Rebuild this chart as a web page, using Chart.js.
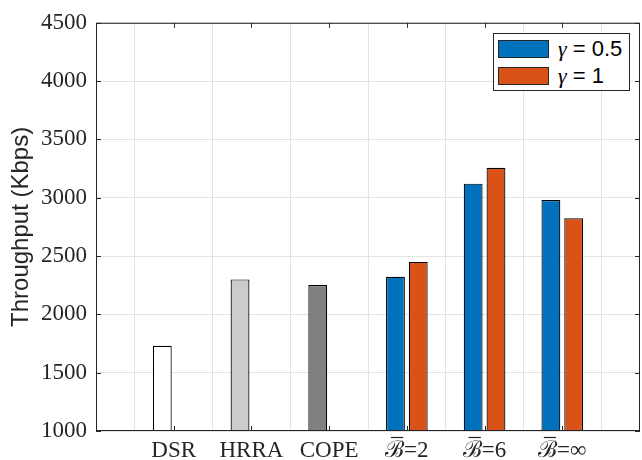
<!DOCTYPE html>
<html>
<head>
<meta charset="utf-8">
<script src="https://cdn.jsdelivr.net/npm/chart.js@4.4.1/dist/chart.umd.min.js"></script>
<style>
  html, body { margin: 0; padding: 0; background: #fff; }
  #wrap { position: relative; width: 642px; height: 460px; overflow: hidden; }
  #wrap canvas { position: absolute; left: 0; top: 0; }
  .lg { position: absolute; left: 493px; top: 33px; width: 135px; height: 56px; border: 1px solid #262626; background: #fff;
        font-family: "Liberation Sans", Arial, sans-serif; font-size: 22px; color: #000; }
  .lg-row { position: absolute; left: 4px; height: 18px; display: flex; align-items: center; }
  .lg-sw { width: 49px; height: 16px; border: 1px solid #262626; margin-right: 9px; }
  .lg-g { font-family: "Liberation Serif", serif; font-style: italic; }
</style>
</head>
<body>
<div id="wrap">
  <canvas id="c" width="646" height="460"></canvas>
  <div class="lg">
    <div class="lg-row" style="top:6px"><div class="lg-sw" style="background:#0072bd"></div><span><span class="lg-g">γ</span> = 0.5</span></div>
    <div class="lg-row" style="top:33px"><div class="lg-sw" style="background:#d95319"></div><span><span class="lg-g">γ</span> = 1</span></div>
  </div>
</div>
<script>
// ── Data ─────────────────────────────────────────────────────────────────────
const categories = ['DSR', 'HRRA', 'COPE', 'ℬ=2', 'ℬ=6', 'ℬ=∞'];   // ℬ gets a bar drawn over it
const gammaHalf  = [1730, 2300, 2252, 2323, 3121, 2980];   // γ = 0.5
const gammaOne   = [1000, 1000, 1000, 2450, 3257, 2824];   // γ = 1
const halfColors = ['#ffffff', '#cccccc', '#808080', '#0072bd', '#0072bd', '#0072bd'];
const oneColor   = '#d95319';
const yTicks     = [1000, 1500, 2000, 2500, 3000, 3500, 4000, 4500];

// MATLAB-style axes: empty slot either side of the groups
const labels = ['', ...categories, ''];
const pad = arr => [null, ...arr, null];
const tickFont = { family: '"Liberation Serif", serif', size: 23 };

// ── Box + inward ticks + overbar on ℬ (MATLAB look) ──────────────────────────
const axisBox = {
  id: 'axisBox',
  afterDatasetsDraw(chart) {
    const { ctx, chartArea: a, scales: { x, y } } = chart;
    ctx.save();
    ctx.strokeStyle = '#262626';
    ctx.lineWidth = 1;
    ctx.beginPath();
    yTicks.forEach(v => {
      const py = Math.round(y.getPixelForValue(v)) + 0.5;
      ctx.moveTo(a.left, py);  ctx.lineTo(a.left + 5, py);
      ctx.moveTo(a.right, py); ctx.lineTo(a.right - 5, py);
    });
    categories.forEach((_, i) => {
      const px = Math.round(x.getPixelForValue(i + 1)) + 0.5;
      ctx.moveTo(px, a.bottom); ctx.lineTo(px, a.bottom - 5);
      ctx.moveTo(px, a.top);    ctx.lineTo(px, a.top + 5);
    });
    ctx.stroke();
    ctx.strokeRect(a.left + 0.5, a.top + 0.5, a.right - a.left - 1, a.bottom - a.top - 1);
    ctx.restore();
  },
  afterDraw(chart) {
    const { ctx, scales: { x } } = chart;
    ctx.save();
    ctx.font = `${tickFont.size}px ${tickFont.family}`;
    ctx.strokeStyle = '#262626';
    ctx.lineWidth = 1.2;
    categories.forEach((lab, i) => {
      if (lab[0] !== 'ℬ') return;
      const full = ctx.measureText(lab).width;
      const b = ctx.measureText('ℬ').width;
      const left = x.getPixelForValue(i + 1) - full / 2;
      const yy = x.top + 6.5;
      ctx.beginPath();
      ctx.moveTo(left + b * 0.3, yy);
      ctx.lineTo(left + b * 0.95, yy);
      ctx.stroke();
    });
    ctx.restore();
  }
};

new Chart(document.getElementById('c'), {
  type: 'bar',
  data: {
    labels,
    datasets: [
      { label: 'γ = 0.5', data: pad(gammaHalf), backgroundColor: pad(halfColors),
        borderColor: '#000', borderWidth: 1.2, borderSkipped: false },
      { label: 'γ = 1', data: pad(gammaOne), backgroundColor: oneColor,
        borderColor: '#000', borderWidth: 1.2, borderSkipped: false }
    ]
  },
  options: {
    responsive: false,
    animation: false,
    layout: { padding: { top: 19, right: 1, left: 0, bottom: 0 } },
    datasets: { bar: { categoryPercentage: 0.587, barPercentage: 0.826 } },
    plugins: { legend: { display: false }, tooltip: { enabled: false } },
    scales: {
      x: {
        offset: false,
        grid: { color: '#e3e3e3', drawTicks: false },
        border: { display: false },
        ticks: { autoSkip: false, maxRotation: 0, padding: 6, color: '#262626', font: tickFont },
        afterFit: s => { s.height = 29; }
      },
      y: {
        min: 1000, max: 4500,
        afterBuildTicks: s => { s.ticks = yTicks.map(v => ({ value: v })); },
        grid: { color: '#e3e3e3', drawTicks: false },
        border: { display: false },
        ticks: { padding: 9, color: '#262626', font: tickFont, callback: v => String(v) },
        title: { display: true, text: 'Throughput (Kbps)', color: '#262626',
                 padding: { top: 7, bottom: 0 },
                 font: { family: '"Liberation Sans", Arial, sans-serif', size: 24 } },
        afterFit: s => { s.width = 96; }
      }
    }
  },
  plugins: [axisBox]
});
</script>
</body>
</html>
